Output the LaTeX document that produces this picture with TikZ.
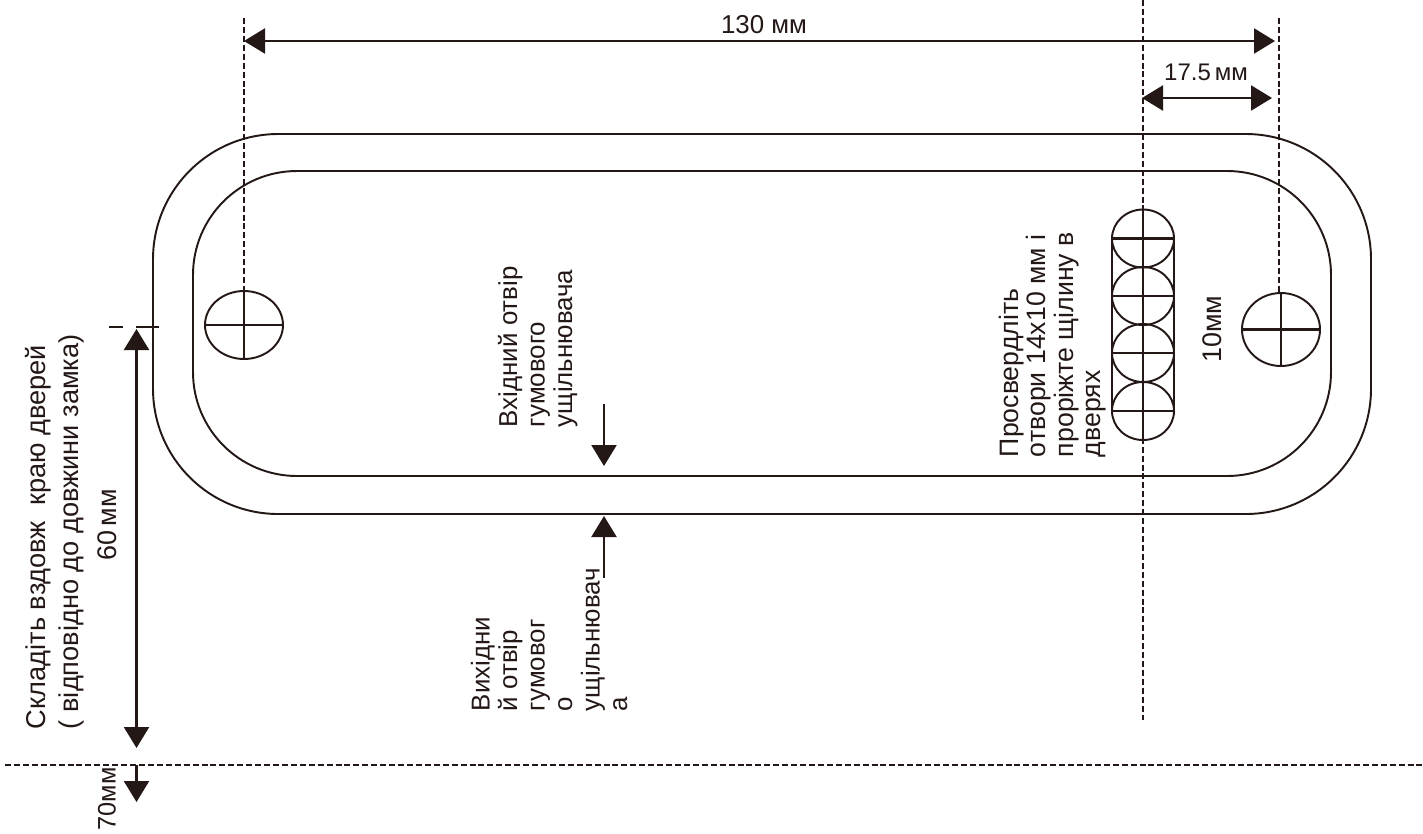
\documentclass[tikz,border=0pt]{standalone}
\usepackage{fontspec}
\setmainfont{Liberation Sans}
\usetikzlibrary{arrows.meta, positioning}
\definecolor{inkblack}{HTML}{231815}

\begin{document}
\begin{tikzpicture}[x=0.75pt, y=-0.75pt, inkblack, line width=1.45pt,
    dashline/.style={line width=1.3pt, dash pattern=on 4.5pt off 2.2pt},
    dimline/.style={line width=1.7pt, -{Triangle[length=15.75pt,width=18.75pt]}},
    dimboth/.style={line width=1.7pt, {Triangle[length=15.75pt,width=18.75pt]}-{Triangle[length=15.75pt,width=18.75pt]}},
    sidetext/.style={rotate=90, anchor=north west, align=left, inner sep=0pt, font=\fontsize{19.4}{20.6}\selectfont},
    flattext/.style={inner sep=0pt, font=\fontsize{19.4}{20}\selectfont}]
    \useasboundingbox (0,0) rectangle (1423,833);

    % plate outlines
    \draw[rounded corners=94pt] (153,134) rectangle (1371,514);
    \draw[rounded corners=78pt] (193,171) rectangle (1331,476);

    % guide lines
    \coordinate (guide_left_top) at (244,18);
    \coordinate (guide_right_top) at (1279,18);
    \coordinate (guide_slot_top) at (1143,0);
    \coordinate (guide_slot_bot) at (1143,720);
    \coordinate (fold_left) at (5,765);
    \coordinate (fold_right) at (1423,765);
    \coordinate (mark_left) at (109,327);
    \coordinate (mark_right) at (159,327);
    \draw[dashline] (guide_left_top) -- (244,291);
    \draw[dashline] (guide_right_top) -- (1279,293);
    \draw[dashline] (guide_slot_top) -- (guide_slot_bot);
    \draw[dashline] (fold_left) -- (fold_right);
    \draw[line width=1.3pt, dash pattern=on 10.5pt off 9.75pt on 60pt] (mark_left) -- (mark_right);

    % screw holes
    \draw (244,325) ellipse [x radius=39, y radius=34];
    \draw[line width=2.2pt] (205,325) -- (283,325) (244,291) -- (244,359);
    \draw (1281,329.5) ellipse [x radius=39, y radius=36.5];
    \draw[line width=2.2pt] (1242,329.5) -- (1320,329.5) (1281,293) -- (1281,366);

    % slot
    \foreach \cy in {238.5,296,353,411} {
        \draw (1143,\cy) ellipse [x radius=31, y radius=29];
        \draw[line width=2.2pt] (1112,\cy) -- (1174,\cy);
    }
    \draw (1112,238.5) -- (1112,411) (1174,238.5) -- (1174,411);
    \draw[line width=2.2pt] (1143,210) -- (1143,440);

    % dimensions
    \coordinate (width_left) at (244,41);
    \coordinate (width_right) at (1275,41);
    \coordinate (offset_left) at (1142,98);
    \coordinate (offset_right) at (1272,98);
    \coordinate (height_top) at (136.5,329);
    \coordinate (height_bot) at (136.5,748);
    \coordinate (extra_top) at (136.5,765);
    \coordinate (extra_bot) at (136.5,802);
    \draw[dimboth] (width_left) -- (width_right);
    \draw[dimboth] (offset_left) -- (offset_right);
    \draw[dimboth] (height_top) -- (height_bot);
    \draw[dimline] (extra_top) -- (extra_bot);

    % seal arrows
    \coordinate (inlet_start) at (604,404);
    \coordinate (inlet_end) at (604,466);
    \coordinate (outlet_start) at (604,578);
    \coordinate (outlet_end) at (604,516);
    \draw[dimline] (inlet_start) -- (inlet_end);
    \draw[dimline] (outlet_start) -- (outlet_end);

    % labels
    \node (width_label) [flattext] at (764,25) {130 мм};
    \node (offset_label) [flattext, font=\fontsize{18}{20}\selectfont] at (1206,72) {17.5\,мм};
    \node (slot_label) [flattext, rotate=90, font=\fontsize{20.2}{20}\selectfont] at (1212,329) {10мм};
    \node (slot_note) [sidetext, font=\fontsize{20}{20.6}\selectfont] at (998,458) {Просвердліть\\отвори 14х10 мм і\\проріжте щілину в\\дверях};
    \node (inlet_note) [sidetext] at (497,428) {Вхідний отвір\\гумового\\ущільнювача};
    \node (outlet_note) [sidetext] at (470,712) {Вихідни\\й отвір\\гумовог\\о\\ущільнювач\\а};
    \node (fold_note) [sidetext, font=\fontsize{20.4}{24.8}\selectfont] at (24,730) {Складіть вздовж\ \ краю дверей\\( відповідно до довжини замка)};
    \node (height_label) [flattext, rotate=90, font=\fontsize{20.2}{20}\selectfont] at (107,525) {60\,мм};
    \node (extra_label) [flattext, rotate=90, font=\fontsize{19}{20}\selectfont] at (107,799) {70мм};
\end{tikzpicture}
\end{document}
